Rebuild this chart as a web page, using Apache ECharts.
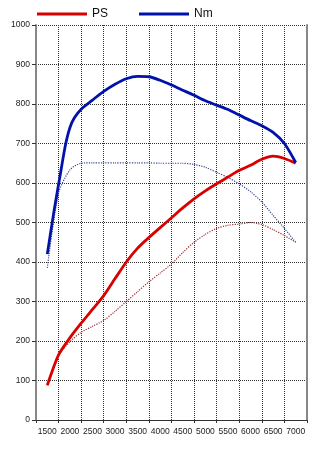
<!DOCTYPE html>
<html>
<head>
<meta charset="utf-8">
<script src="https://cdn.jsdelivr.net/npm/echarts@6/dist/echarts.min.js"></script>
<style>
html,body{margin:0;padding:0;background:#fff;}
#c{width:320px;height:450px;}
</style>
</head>
<body>
<div id="c"></div>
<script>
var categories = ['1500','2000','2500','3000','3500','4000','4500','5000','5500','6000','6500','7000'];
var yTicks = [0,100,200,300,400,500,600,700,800,900,1000];

var rpmTuned = [1500,1650,1800,1900,2000,2100,2250,2500,2750,3000,3250,3500,3750,4000,4250,4500,4750,5000,5250,5500,5750,6000,6250,6500,6750,7000];
var nmTuned  = [420,530,630,695,740,765,787,810,832,850,864,870,869,860,848,835,822,808,797,786,772,758,745,728,700,652];

var rpm = [1500,1750,2000,2250,2500,2750,3000,3250,3500,3750,4000,4250,4500,4750,5000,5250,5500,5750,6000,6250,6500,6750,7000];
var psTuned = [88,165,208,245,280,315,358,400,435,462,487,512,537,560,580,598,615,632,645,660,668,662,650];
var psStock = [88,163,198,222,237,252,275,300,325,350,372,395,424,450,470,485,493,496,500,495,482,467,450];
var nmStock = [385,575,633,650,651,651,651,651,651,651,650,650,650,647,640,627,614,598,578,552,518,485,450];

function pairs(xs, ys){ return xs.map(function(x,i){ return [x, ys[i]]; }); }

var chart = echarts.init(document.getElementById('c'), null, {renderer:'canvas'});
var font = 'Liberation Sans, Arial, sans-serif';
chart.setOption({
  animation:false,
  backgroundColor:'#fff',
  textStyle:{fontFamily:font},
  legend:{
    left:32, top:3,
    itemWidth:50, itemHeight:3, itemGap:31,
    textStyle:{fontSize:12, color:'#111', fontFamily:font},
    data:[{name:'PS', icon:'rect'},{name:'Nm', icon:'rect'}]
  },
  grid:{left:36, right:13, top:25, bottom:30, containLabel:false},
  xAxis:[{
    type:'category', data:categories, boundaryGap:true, position:'bottom',
    axisLine:{show:true, lineStyle:{color:'#333', width:1}},
    axisTick:{show:true, length:3, lineStyle:{color:'#333'}},
    axisLabel:{fontSize:8.5, color:'#222', margin:7, interval:0, fontFamily:font},
    splitLine:{show:true, lineStyle:{color:'#333', type:'dotted', width:1}}
  },{
    type:'value', min:1250, max:7250, show:false, position:'bottom'
  }],
  yAxis:[{
    type:'value', min:0, max:1000, interval:100, position:'left',
    axisLine:{show:true, lineStyle:{color:'#888', width:2}},
    axisTick:{show:true, length:4, lineStyle:{color:'#333'}},
    axisLabel:{fontSize:8.5, color:'#222', margin:6, fontFamily:font, formatter:function(v){ return String(v); }},
    splitLine:{show:true, lineStyle:{color:'#333', type:'dotted', width:1}}
  },{
    type:'value', min:0, max:1000, interval:100, position:'right',
    axisLine:{show:true, lineStyle:{color:'#888', width:2}},
    axisTick:{show:false}, axisLabel:{show:false}, splitLine:{show:false}
  }],
  series:[
    {name:'PS stock', type:'line', xAxisIndex:1, yAxisIndex:0, data:pairs(rpm, psStock), smooth:0.25, showSymbol:false, z:2,
     lineStyle:{color:'#a03030', width:1.2, type:'dotted'}, itemStyle:{color:'#a03030'}},
    {name:'Nm stock', type:'line', xAxisIndex:1, yAxisIndex:0, data:pairs(rpm, nmStock), smooth:0.25, showSymbol:false, z:2,
     lineStyle:{color:'#3a4a90', width:1.2, type:'dotted'}, itemStyle:{color:'#3a4a90'}},
    {name:'PS', type:'line', xAxisIndex:1, yAxisIndex:0, data:pairs(rpm, psTuned), smooth:0.25, showSymbol:false, z:3,
     lineStyle:{color:'#d90000', width:2.8}, itemStyle:{color:'#d90000'}},
    {name:'Nm', type:'line', xAxisIndex:1, yAxisIndex:0, data:pairs(rpmTuned, nmTuned), smooth:0.25, showSymbol:false, z:3,
     lineStyle:{color:'#0012aa', width:2.8}, itemStyle:{color:'#0012aa'}}
  ]
});
</script>
</body>
</html>
